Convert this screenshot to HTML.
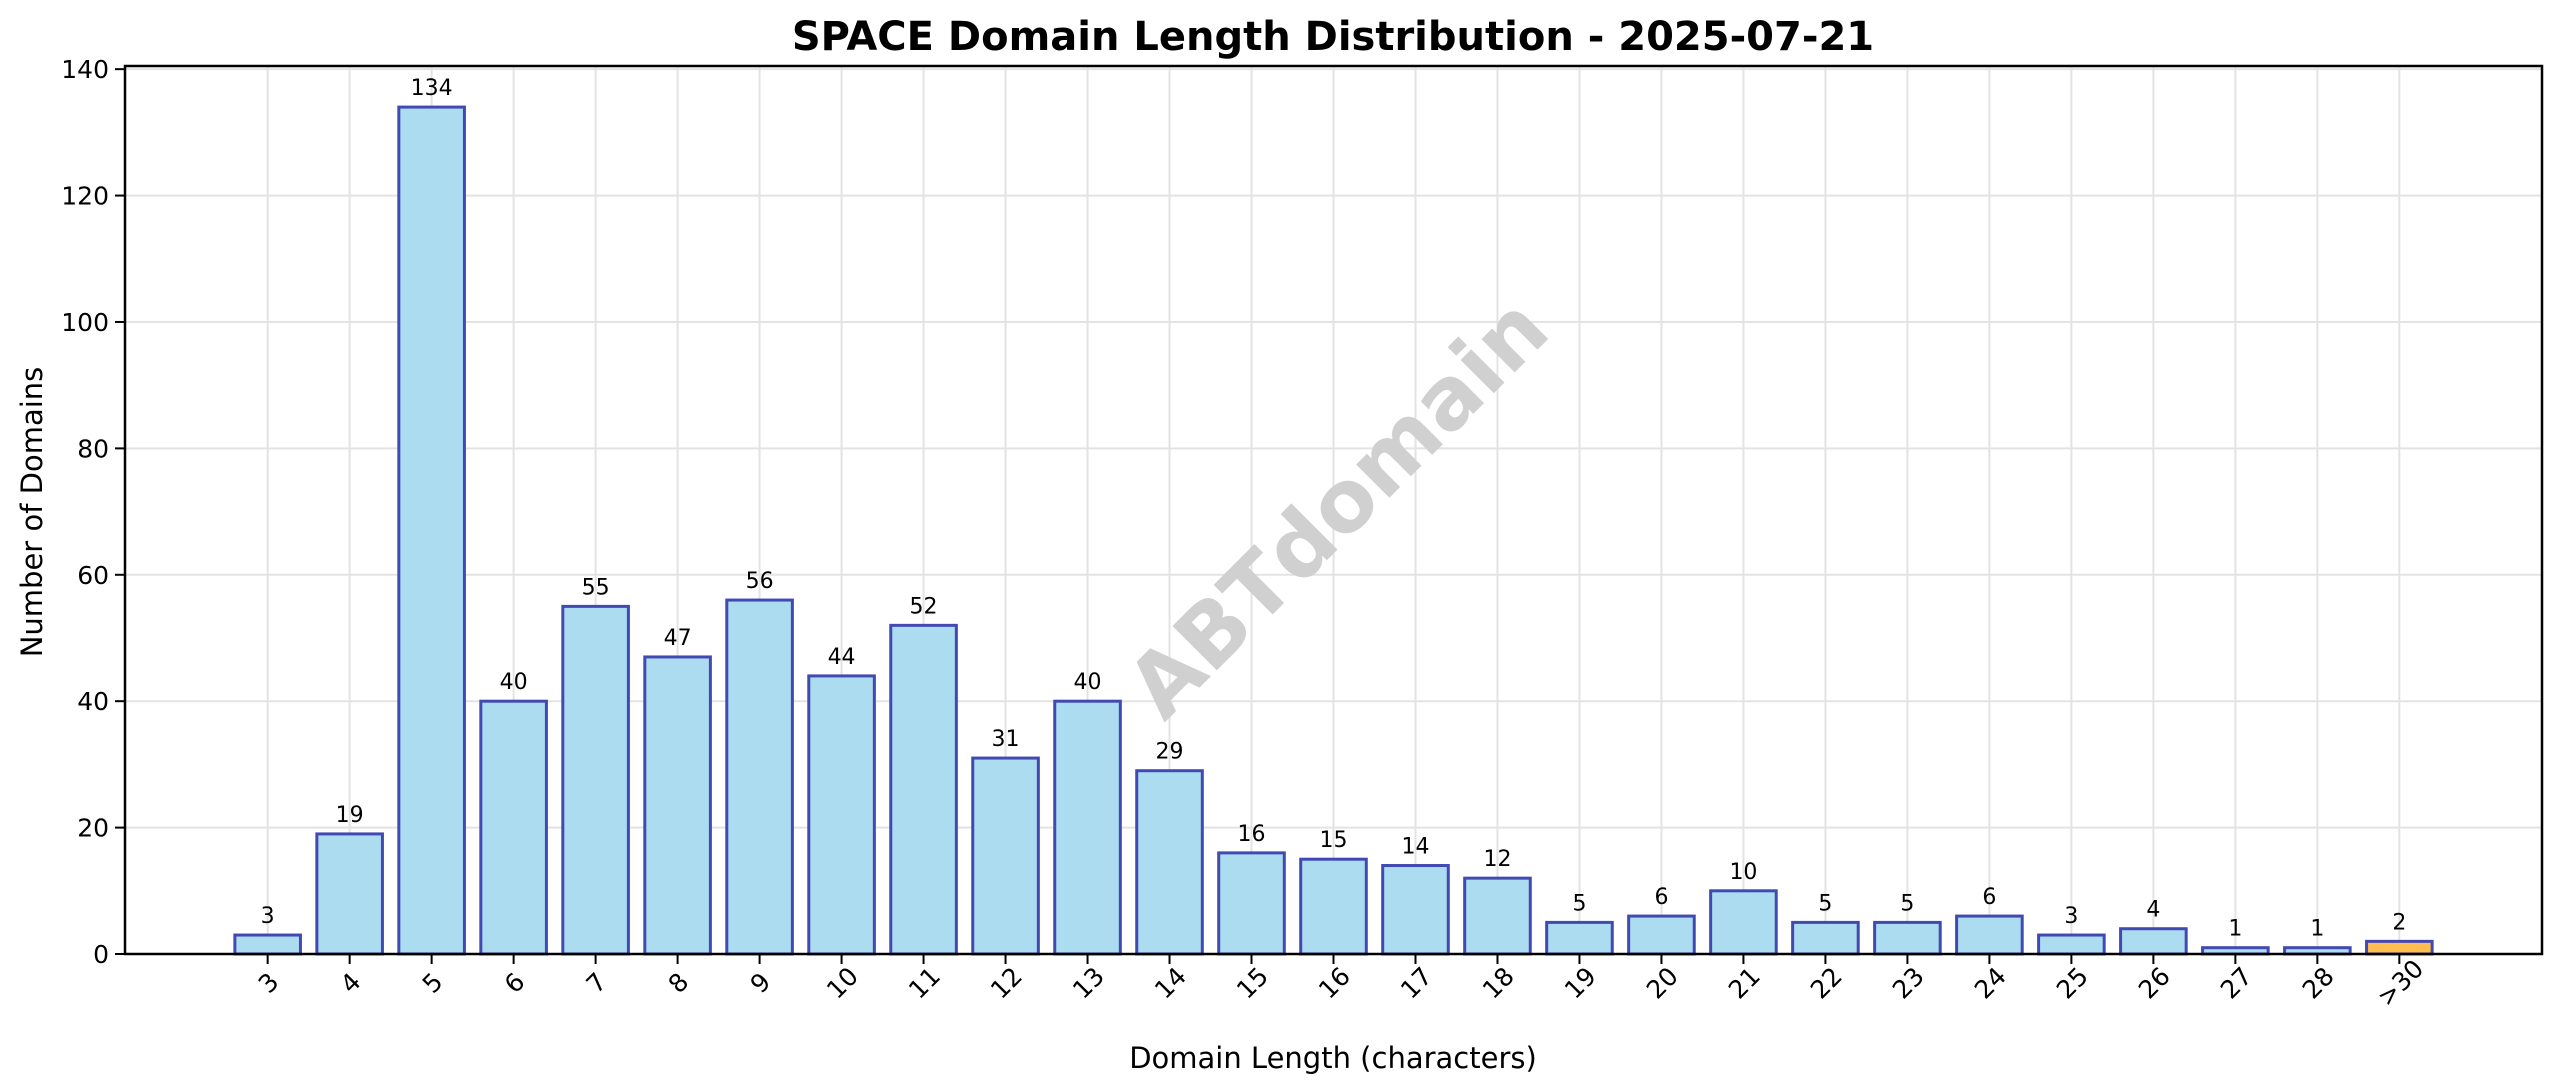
<!DOCTYPE html>
<html><head><meta charset="utf-8"><style>
html,body{margin:0;padding:0;background:#fff;}
svg text{font-family:"DejaVu Sans","Liberation Sans",sans-serif;}
</style></head><body>
<svg id="chart" width="2560" height="1087" viewBox="0 0 2560 1087" xmlns="http://www.w3.org/2000/svg">
<rect width="2560" height="1087" fill="#fff"/>
<g id="grid"></g>
<text x="1333" y="50" text-anchor="middle" font-size="40" font-weight="bold" fill="#000">SPACE Domain Length Distribution - 2025-07-21</text>
<text transform="translate(1342,512) rotate(-45)" text-anchor="middle" dominant-baseline="middle" font-size="86" font-weight="bold" fill="#d0d0d0">ABTdomain</text>
<g id="bars"></g>
<g id="axes"></g>
<text x="1333" y="1068" text-anchor="middle" font-size="29" fill="#000">Domain Length (characters)</text>
<text transform="translate(42,512) rotate(-90)" text-anchor="middle" font-size="29" fill="#000">Number of Domains</text>
</svg>
<script>
const categories = ["3","4","5","6","7","8","9","10","11","12","13","14","15","16","17","18","19","20","21","22","23","24","25","26","27","28",">30"];
const counts = [3,19,134,40,55,47,56,44,52,31,40,29,16,15,14,12,5,6,10,5,5,6,3,4,1,1,2];
const yTicks = [0,20,40,60,80,100,120,140];

const L=125,R=2542,T=66,B=954;
const yMax=140.5;
const n=categories.length;
const xMin=-1.74,xMaxV=(n-1)+1.74;
function xs(i){return L+(i-xMin)/(xMaxV-xMin)*(R-L);}
function ys(v){return B-v/yMax*(B-T);}
const NS="http://www.w3.org/2000/svg";
function mk(tag,attrs,parent){const e=document.createElementNS(NS,tag);for(const k in attrs)e.setAttribute(k,attrs[k]);parent.appendChild(e);return e;}
const grid=document.getElementById('grid'),bars=document.getElementById('bars'),axes=document.getElementById('axes');
const step=xs(1)-xs(0), bw=step*0.8;

categories.forEach((c,i)=>{
  const gl=mk('line',{x1:xs(i),x2:xs(i),y1:T,y2:B,stroke:'#e3e3e3','stroke-width':2},grid);
  
  
});
yTicks.forEach(v=>{
  const gl=mk('line',{x1:L,x2:R,y1:ys(v),y2:ys(v),stroke:'#e3e3e3','stroke-width':2},grid);
  
  
});

counts.forEach((v,i)=>{
  const cx=xs(i);
  const r=mk('rect',{x:cx-bw/2,y:ys(v),width:bw,height:B-ys(v),fill:i===n-1?'#ffbe4d':'#abdcf0',stroke:'#4349b3','stroke-width':3},bars);
  
  
  const t=mk('text',{x:cx,y:ys(v)-12,'text-anchor':'middle','font-size':22,fill:'#000'},bars);
  t.textContent=v;
  
  
  const tk=mk('line',{x1:cx,x2:cx,y1:B,y2:B+10,stroke:'#000','stroke-width':2},axes);
  
  
  const tl=mk('text',{transform:`translate(${cx+2},${B+30}) rotate(-45)`,'text-anchor':'middle','dominant-baseline':'middle','font-size':25,fill:'#000'},axes);
  tl.textContent=categories[i];
  
  
});

yTicks.forEach(v=>{
  const tk=mk('line',{x1:L-10,x2:L,y1:ys(v),y2:ys(v),stroke:'#000','stroke-width':2},axes);
  
  
  const tl=mk('text',{x:L-16,y:ys(v)+9,'text-anchor':'end','font-size':25,fill:'#000'},axes);
  tl.textContent=v;
  
  
});

const frame=mk('rect',{x:L,y:T,width:R-L,height:B-T,fill:'none',stroke:'#000','stroke-width':2.5},axes);


</script>
</body></html>
